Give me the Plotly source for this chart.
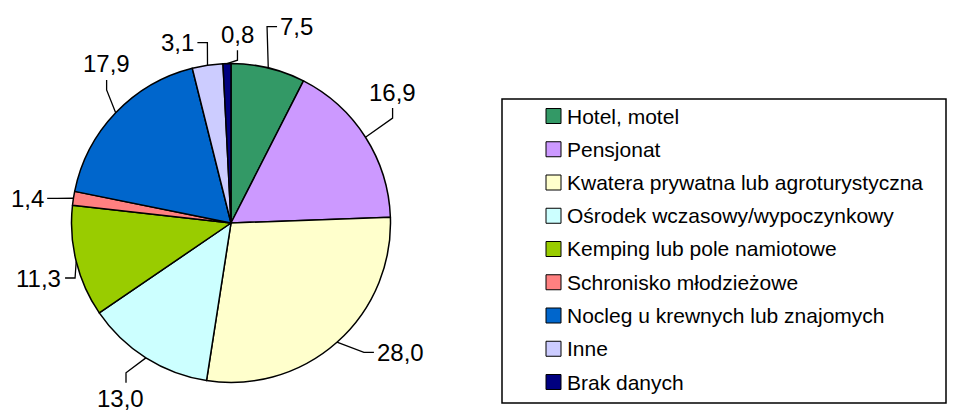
import math
import plotly.graph_objects as go

# ---------------- data ----------------
categories = [
    "Hotel, motel",
    "Pensjonat",
    "Kwatera prywatna lub agroturystyczna",
    "Ośrodek wczasowy/wypoczynkowy",
    "Kemping lub pole namiotowe",
    "Schronisko młodzieżowe",
    "Nocleg u krewnych lub znajomych",
    "Inne",
    "Brak danych",
]
values = [7.5, 16.9, 28.0, 13.0, 11.3, 1.4, 17.9, 3.1, 0.8]
colors = ["#339966", "#CC99FF", "#FFFFCC", "#CCFFFF", "#99CC00",
          "#FF8080", "#0066CC", "#CCCCFF", "#000080"]

# ---------------- style ----------------
W, H = 956, 413
FONT = "Liberation Sans, Arial, sans-serif"
CX, CY, R = 231, 223, 159.5          # pie centre / radius in px
LABEL_SIZE = 24
LEGEND_SIZE = 21
# per-label: angle nudge (deg), text distance from centre (px), leader style
label_nudge = [5, -6.5, -11, 0, -2, -2, 8.3, -8, 3.4]
label_dist = [207, 208, 213, 208, 200, 205, 202, 188, 189]
leader_kind = ["h", "v", "h", "v", "h", "h", "v", "h", "v"]


def px(x):
    return x / W


def py(y):
    return 1 - y / H


fig = go.Figure()
fig.add_trace(go.Pie(
    labels=categories,
    values=values,
    sort=False,
    direction="clockwise",
    rotation=0,
    marker=dict(colors=colors, line=dict(color="black", width=1.5)),
    textinfo="none",
    hoverinfo="label+value",
    showlegend=False,
    domain=dict(x=[px(CX - R), px(CX + R)], y=[py(CY + R), py(CY - R)]),
))

total = sum(values)
shapes = []
annotations = []
cum = 0.0
for i, v in enumerate(values):
    mid = (cum + v / 2) / total * 360.0
    cum += v
    txt = f"{v:.1f}".replace(".", ",")
    # text centre
    a = math.radians(mid + label_nudge[i])
    tx = CX + label_dist[i] * math.sin(a)
    ty = CY - label_dist[i] * math.cos(a)
    half_w = sum(0.278 if c == "," else 0.556 for c in txt) * LABEL_SIZE / 2
    half_h = LABEL_SIZE * 0.42
    # leader start on pie edge
    am = math.radians(mid)
    sx = CX + R * math.sin(am)
    sy = CY - R * math.cos(am)
    if leader_kind[i] == "h":
        side = 1 if tx < CX else -1   # label left of centre -> end at right side
        ex = tx + side * (half_w + 3)
        ey = ty
        bx = ex + side * 10
        by = ey
    else:
        side = 1 if ty < CY else -1   # label above -> end at bottom
        ex = tx + (6 if ty > CY else 0)
        ey = ty + side * (half_h + 6)
        bx = ex
        by = ey + side * 10
    shapes.append(dict(
        type="path", xref="paper", yref="paper",
        path=f"M {px(sx)} {py(sy)} L {px(bx)} {py(by)} L {px(ex)} {py(ey)}",
        line=dict(color="black", width=1.3),
    ))
    annotations.append(dict(
        x=px(tx), y=py(ty), xref="paper", yref="paper",
        text=txt, showarrow=False, xanchor="center", yanchor="middle",
        font=dict(family=FONT, size=LABEL_SIZE, color="black"),
    ))

# ---------------- manual legend ----------------
LEG_BOX = (502, 99, 946, 403)
ROW0, ROW_STEP = 116, 33.25
MK_X0, MK_SIZE, TXT_X = 546, 15, 565
shapes.append(dict(type="rect", xref="paper", yref="paper",
                   x0=px(LEG_BOX[0]), x1=px(LEG_BOX[2]),
                   y0=py(LEG_BOX[3]), y1=py(LEG_BOX[1]),
                   line=dict(color="black", width=1.5), fillcolor="white",
                   layer="below"))
for i, (name, col) in enumerate(zip(categories, colors)):
    yc = ROW0 + i * ROW_STEP
    shapes.append(dict(type="rect", xref="paper", yref="paper",
                       x0=px(MK_X0), x1=px(MK_X0 + MK_SIZE),
                       y0=py(yc + MK_SIZE / 2), y1=py(yc - MK_SIZE / 2),
                       line=dict(color="black", width=1), fillcolor=col))
    annotations.append(dict(
        x=px(TXT_X), y=py(yc), xref="paper", yref="paper",
        text=name, showarrow=False, xanchor="left", yanchor="middle",
        font=dict(family=FONT, size=LEGEND_SIZE, color="black"),
    ))

fig.update_layout(
    width=W, height=H,
    margin=dict(l=0, r=0, t=0, b=0),
    paper_bgcolor="white", plot_bgcolor="white",
    shapes=shapes, annotations=annotations,
    showlegend=False,
    font=dict(family=FONT),
)

fig.write_html(
    "out.html",
    config={"displayModeBar": False},
    post_script="document.body.style.margin='0';document.body.style.padding='0';",
)
